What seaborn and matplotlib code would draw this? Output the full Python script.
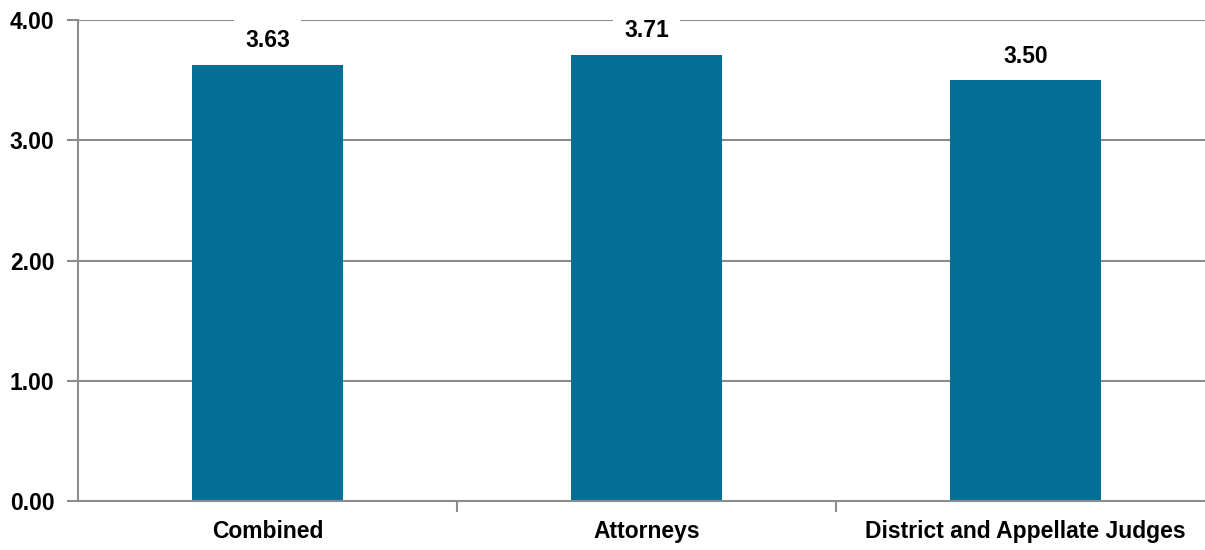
import numpy as np
import matplotlib.pyplot as plt
import pandas as pd
import seaborn as sns

categories = ["Combined", "Attorneys", "District and Appellate Judges"]
scores = [3.63, 3.71, 3.50]
yticks = [0, 1, 2, 3, 4]

sns.set_style("white")
plt.rcParams["font.family"] = ["Liberation Sans Narrow", "Liberation Sans", "DejaVu Sans"]
plt.rcParams["font.weight"] = "bold"
plt.rcParams["text.color"] = "black"
plt.rcParams["xtick.labelcolor"] = "black"
plt.rcParams["ytick.labelcolor"] = "black"

df = pd.DataFrame({"group": categories, "score": scores})

fig = plt.figure(figsize=(12.05, 5.5), dpi=100)
# the last category runs past the right edge of the figure, as in the original
ax = fig.add_axes([0.0647, 0.0891, 0.9436, 0.8745])

grid_c = "#8c8c8c"
for y in yticks[1:]:
    ax.axhline(y, color=grid_c, lw=1.5, zorder=0)

sns.barplot(data=df, x="group", y="score", color="#036f96", width=0.4,
            saturation=1, linewidth=0, ax=ax, zorder=2)

for i, v in enumerate(scores):
    ax.text(i, v + 0.2, f"{v:.2f}", ha="center", va="center", fontsize=16.5,
            fontweight="bold", color="black", zorder=5,
            bbox=dict(boxstyle="square,pad=0.5", fc="white", ec="none"))

ax.set_ylim(0, 4)
ax.set_xlim(-0.5, 2.5)
ax.set_yticks(yticks)
ax.set_yticklabels([f"{t:.2f}" for t in yticks], fontsize=16.5, fontweight="bold")
ax.set_xticks(range(len(categories)))
ax.set_xticklabels(categories, fontsize=16.5, fontweight="bold")
ax.set_xlabel("")
ax.set_ylabel("")

# category boundary ticks
ax.set_xticks([0.5, 1.5], minor=True)
ax.tick_params(axis="x", which="major", length=0, pad=14)
ax.tick_params(axis="x", which="minor", length=8, width=1.5, color=grid_c, direction="out")
ax.tick_params(axis="y", length=8, width=1.5, color=grid_c, direction="out", pad=9)
ax.xaxis.set_tick_params(bottom=True, which="both")
ax.yaxis.set_tick_params(left=True)

for s in ["top", "right"]:
    ax.spines[s].set_visible(False)
for s in ["left", "bottom"]:
    ax.spines[s].set_color(grid_c)
    ax.spines[s].set_linewidth(1.5)

fig.savefig("out.png", dpi=100)
